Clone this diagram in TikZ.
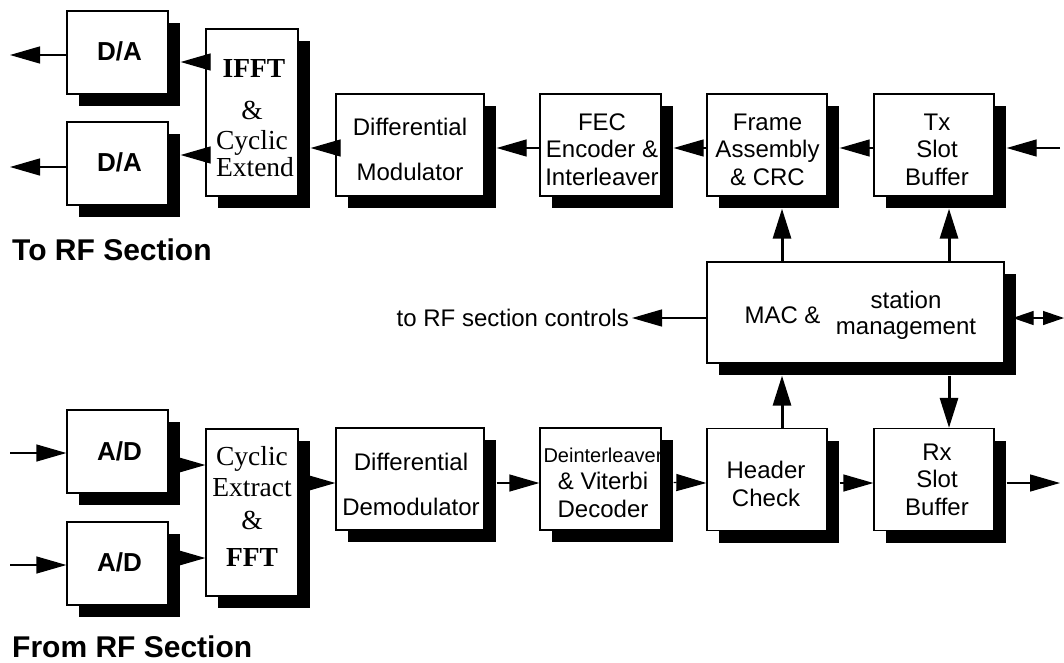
\documentclass[tikz,border=0pt]{standalone}
\usepackage{fontspec}
\setmainfont{Liberation Sans}
\newfontfamily\tms{Liberation Serif}
\usetikzlibrary{arrows.meta,calc,shadows}
\begin{document}
\begin{tikzpicture}[x=1pt,y=-1pt,
  box/.style={draw, line width=1.3pt, fill=white, inner sep=0pt,
    drop shadow={shadow xshift=12pt, shadow yshift=-12pt, opacity=1, fill=black}},
  std/.style={box, minimum width=120pt, minimum height=102pt},
  wide/.style={box, minimum width=148pt, minimum height=102pt},
  small/.style={box, minimum width=101pt, minimum height=83pt},
  tall/.style={box, minimum width=92pt, minimum height=167pt},
  txt/.style={inner sep=0pt, align=center, font=\fontsize{24}{27.5}\selectfont},
  btxt/.style={inner sep=0pt, font=\bfseries\fontsize{26}{30}\selectfont},
  stxt/.style={inner sep=0pt, anchor=base, font=\tms\fontsize{27.5}{30}\selectfont},
  ltxt/.style={inner sep=0pt, anchor=west, font=\bfseries\fontsize{30}{34}\selectfont},
  arr/.style={line width=1.3pt, -{Triangle[length=30pt,width=17pt]}},
  varr/.style={line width=3pt, -{Triangle[length=30pt,width=18pt]}},
  darr/.style={line width=1.3pt, {Triangle[length=21pt,width=14pt]}-{Triangle[length=21pt,width=14pt]}},
]
\useasboundingbox (0,0) rectangle (1064,662);

% ---- transmit row ----
\node[small] (DA1) at (117.5,52.5) {};
\node[small] (DA2) at (117.5,163.5) {};
\node[tall] (IFFT) at (252,112.5) {};
\node[wide] (DiffMod) at (410,145) {};
\node[std, minimum width=121pt] (FEC) at (600.5,145) {};
\node[std] (Frame) at (767,145) {};
\node[std] (Tx) at (934,145) {};

% ---- MAC ----
\node[box, minimum width=297pt, minimum height=101pt] (MAC) at (855.5,312.5) {};

% ---- receive row ----
\node[small] (AD1) at (117.5,451.5) {};
\node[small] (AD2) at (117.5,563.5) {};
\node[tall] (Cyc) at (252,512.5) {};
\node[wide] (DiffDemod) at (410,479) {};
\node[std, minimum width=121pt] (Deint) at (600.5,479) {};
\node[std] (Header) at (767,479.5) {};
\node[std] (Rx) at (934,479.5) {};

% ---- texts ----
\node[btxt] (DA1t) at (119.5,51.5) {D/A};
\node[btxt] (DA2t) at (119.5,162.5) {D/A};
\node[btxt] (AD1t) at (119.5,451) {A/D};
\node[btxt] (AD2t) at (119.5,562.5) {A/D};
\node[stxt] (IFFTt) at (254,77.5) {\bfseries IFFT};
\node[stxt] (IFFTa) at (252,119) {\&};
\node[stxt] (IFFTc) at (252,149) {Cyclic};
\node[stxt] (IFFTe) at (255,176) {Extend};
\node[stxt] (Cycc) at (252,465) {Cyclic};
\node[stxt] (Cyce) at (252,496) {Extract};
\node[stxt] (Cyca) at (252,529.5) {\&};
\node[stxt] (Cycf) at (252,566.5) {\bfseries FFT};
\node[txt] (DiffModt) at (410,149.5) {Differential\\[17.5pt]Modulator};
\node[txt] (FECt) at (602,149.5) {FEC\\Encoder \&\\Interleaver};
\node[txt] (Framet) at (767.5,149.5) {Frame\\Assembly\\\& CRC};
\node[txt] (Txt) at (937,149.5) {Tx\\Slot\\Buffer};
\node[txt] (MACt) at (782.5,315) {MAC \&};
\node[txt] (MACs) at (906,315) {station\\[-1.5pt]management};
\node[txt] (DiffDemodt) at (411,484.5) {Differential\\[17.5pt]Demodulator};
\node[txt] (Deintt) at (603,482.5) {{\fontsize{20}{24}\selectfont Deinterleaver}\\\& Viterbi\\Decoder};
\node[txt] (Headert) at (766,484) {Header\\Check};
\node[txt] (Rxt) at (937,479.5) {Rx\\Slot\\Buffer};
\node[ltxt] (toRF) at (12,250) {To RF Section};
\node[ltxt] (fromRF) at (12,647) {From RF Section};
\node[txt, anchor=east, inner xsep=3pt] (ctl) at (632,318) {to RF section controls};

% ---- free ends ----
\coordinate (o1) at (10,55);
\coordinate (o2) at (10,167);
\coordinate (i1) at (10,453);
\coordinate (i2) at (10,565);
\coordinate (tin) at (1060,148);
\coordinate (rout) at (1060,483);
\coordinate (dout) at (1064,318);

% ---- transmit arrows ----
\draw[arr] (tin) -- ($(Tx.east)+(12,3)$);
\draw[arr] ($(Tx.west)+(0,3)$) -- ($(Frame.east)+(12,3)$);
\draw[arr] ($(Frame.west)+(0,3)$) -- ($(FEC.east)+(12,3)$);
\draw[arr] ($(FEC.west)+(0,3)$) -- ($(DiffMod.east)+(12,3)$);
\draw[arr] ($(DiffMod.west)+(0,3)$) -- ($(IFFT.east)+(12,35.5)$);
\draw[arr] ($(IFFT.west)+(0,-50.5)$) -- ($(DA1.east)+(12,9.5)$);
\draw[arr] ($(IFFT.west)+(0,42.5)$) -- ($(DA2.east)+(12,-8.5)$);
\draw[arr] ($(DA1.west)+(0,2.5)$) -- (o1);
\draw[arr] ($(DA2.west)+(0,3.5)$) -- (o2);

% ---- receive arrows ----
\draw[arr] (i1) -- ($(AD1.west)+(0,1.5)$);
\draw[arr] (i2) -- ($(AD2.west)+(0,1.5)$);
\draw[arr] ($(AD1.east)+(12,13.5)$) -- ($(Cyc.west)+(0,-47.5)$);
\draw[arr] ($(AD2.east)+(12,-5.5)$) -- ($(Cyc.west)+(0,45.5)$);
\draw[arr] ($(Cyc.east)+(12,-29.5)$) -- ($(DiffDemod.west)+(0,4)$);
\draw[arr] ($(DiffDemod.east)+(12,4)$) -- ($(Deint.west)+(0,4)$);
\draw[arr] ($(Deint.east)+(12,3.5)$) -- ($(Header.west)+(0,3.5)$);
\draw[arr] ($(Header.east)+(12,3.5)$) -- ($(Rx.west)+(0,3.5)$);
\draw[arr] ($(Rx.east)+(12,3.5)$) -- (rout);

% ---- MAC arrows ----
\draw[arr] ($(MAC.west)+(0,5.5)$) -- (ctl.east);
\draw[darr] ($(MAC.east)+(8,5.5)$) -- (dout);
\coordinate (ms) at ($(MAC.south)+(0,12)$);
\coordinate (fb) at ($(Frame.south)+(15,12)$);
\coordinate (tb) at ($(Tx.south)+(15,12)$);
\coordinate (hb) at ($(Header.north)+(15,0)$);
\coordinate (rb) at ($(Rx.north)+(15,0)$);
\draw[varr] (fb |- MAC.north) -- (fb);
\draw[varr] (tb |- MAC.north) -- (tb);
\draw[varr] (hb) -- (hb |- ms);
\draw[varr] (rb |- ms) -- (rb);
\end{tikzpicture}
\end{document}
